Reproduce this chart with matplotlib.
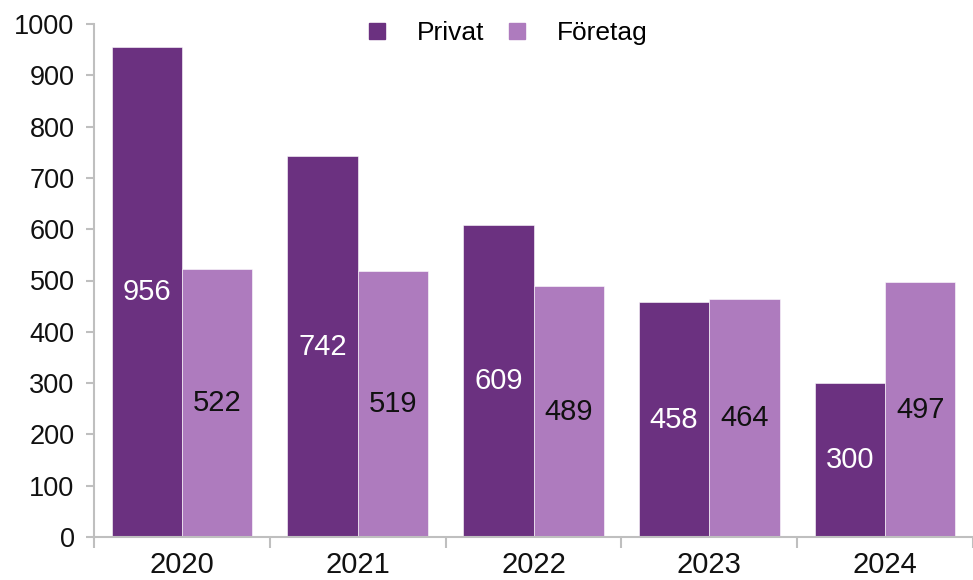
import numpy as np
import matplotlib.pyplot as plt
from matplotlib.lines import Line2D

# --- Dati ---
years = ["2020", "2021", "2022", "2023", "2024"]
privat = [956, 742, 609, 458, 300]
foretag = [522, 519, 489, 464, 497]

DARK = "#6B3180"
LIGHT = "#AE7BBE"
AXIS = "#BFBFBF"

plt.rcParams['font.family'] = ['Liberation Sans', 'DejaVu Sans']

fig = plt.figure(figsize=(9.73, 5.8), dpi=100)
ax = fig.add_axes([94/973, 1 - 537/580, (973 - 94)/973, (537 - 24)/580])

x = np.arange(len(years))
w = 0.4
b1 = ax.bar(x - w/2, privat, w, color=DARK, edgecolor="white", linewidth=0.4)
b2 = ax.bar(x + w/2, foretag, w, color=LIGHT, edgecolor="white", linewidth=0.4)

# etichette al centro delle barre
for rect, v in zip(b1, privat):
    ax.text(rect.get_x() + rect.get_width()/2, v/2, str(v), ha="center", va="center",
            color="white", fontsize=21)
for rect, v in zip(b2, foretag):
    ax.text(rect.get_x() + rect.get_width()/2, v/2, str(v), ha="center", va="center",
            color="#111111", fontsize=21)

ax.set_ylim(0, 1000)
ax.set_xlim(-0.5, (973 - 94)/178 - 0.5)
ax.set_yticks(np.arange(0, 1001, 100))
ax.set_xticks(x)
ax.set_xticklabels(years)
ax.set_xticks(np.arange(-0.5, 5, 1), minor=True)

for s in ["top", "right"]:
    ax.spines[s].set_visible(False)
for s in ["left", "bottom"]:
    ax.spines[s].set_color(AXIS)
    ax.spines[s].set_linewidth(1.5)

ax.tick_params(axis="y", length=6, width=1.5, color=AXIS, labelsize=19.5, pad=8, labelcolor="#111111")
ax.tick_params(axis="x", which="major", length=0, labelsize=21, pad=10, labelcolor="#111111")
ax.tick_params(axis="x", which="minor", length=8, width=1.5, color=AXIS)

handles = [Line2D([], [], marker="s", linestyle="none", color=DARK, markersize=11),
           Line2D([], [], marker="s", linestyle="none", color=LIGHT, markersize=11)]
fig.legend(handles, ["Privat", "Företag"], loc="center", bbox_to_anchor=(506/973, 1 - 33/580),
           ncol=2, frameon=False, fontsize=19, handlelength=1.0, handletextpad=1.0,
           columnspacing=0.75)

fig.savefig("out.png", dpi=100)
